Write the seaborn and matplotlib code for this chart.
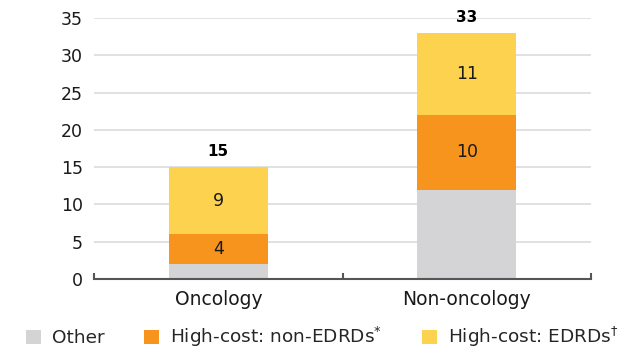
import numpy as np
import pandas as pd
import matplotlib
matplotlib.use('Agg')
import matplotlib.pyplot as plt
import seaborn as sns
from matplotlib.patches import Patch

# data
categories = ['Oncology', 'Non-oncology']
other = [2, 12]
non_edrd = [4, 10]
edrd = [9, 11]
series_names = ['Other', 'High-cost: non-EDRDs$^{*}$', 'High-cost: EDRDs$^{\\dagger}$']
colors = ['#d4d4d6', '#f7941d', '#fdd24f']


def main():
    sns.set_theme(style='white')
    plt.rcParams['font.family'] = ['DejaVu Sans']

    df = pd.DataFrame({'cat': categories, 'other': other,
                       'non_edrd': non_edrd, 'edrd': edrd})
    df['lvl1'] = df['other']
    df['lvl2'] = df['other'] + df['non_edrd']
    df['total'] = df['lvl2'] + df['edrd']

    fig = plt.figure(figsize=(6.32, 3.61), dpi=100)
    ax = fig.add_axes([0.149, 0.227, 0.786, 0.723])

    # layered bars, tallest first, to fake a stack
    for col, c in zip(['total', 'lvl2', 'lvl1'], colors[::-1]):
        sns.barplot(data=df, x='cat', y=col, color=c, width=0.4,
                    saturation=1, ax=ax, zorder=3, linewidth=0,
                    edgecolor='none')

    # segment labels (the grey "other" part is not labelled)
    for i, row in df.iterrows():
        for bottom, v in [(row['lvl1'], row['non_edrd']),
                          (row['lvl2'], row['edrd'])]:
            ax.text(i, bottom + v / 2, str(v), ha='center', va='center',
                    fontsize=12.5, color='#1a1a1a', zorder=5)
        ax.text(i, row['total'] + 1.1, str(row['total']), ha='center',
                va='bottom', fontsize=11, fontweight='bold', color='black')

    ax.set_ylim(0, 35)
    ax.set_xlim(-0.5, 1.5)
    ax.set_yticks(np.arange(0, 36, 5))
    ax.yaxis.grid(True, color='#dcdcdc', linewidth=1.2, zorder=0)
    ax.set_axisbelow(True)
    for s in ['top', 'right', 'left']:
        ax.spines[s].set_visible(False)
    ax.spines['bottom'].set_color('#555555')
    ax.spines['bottom'].set_linewidth(1.5)
    ax.spines['bottom'].set_zorder(4)
    ax.set_xlabel('')
    ax.set_ylabel('')
    ax.tick_params(axis='y', length=0, pad=8, labelsize=12.5, labelcolor='#1a1a1a')
    ax.tick_params(axis='x', which='major', length=0, pad=8, labelsize=13.5,
                   labelcolor='#1a1a1a')
    ax.set_xticks([-0.5, 0.5, 1.5], minor=True)
    ax.tick_params(axis='x', which='minor', bottom=True, direction='in',
                   length=4, width=1.5, color='#555555')

    handles = [Patch(facecolor=c, edgecolor='none') for c in colors]
    fig.legend(handles, series_names, loc='center', bbox_to_anchor=(0.51, 0.066),
               ncol=3, frameon=False, fontsize=13.3, handlelength=0.8,
               handleheight=0.8, handletextpad=0.6, columnspacing=2.15)

    fig.savefig('out.png', dpi=100)


if __name__ == '__main__':
    main()
